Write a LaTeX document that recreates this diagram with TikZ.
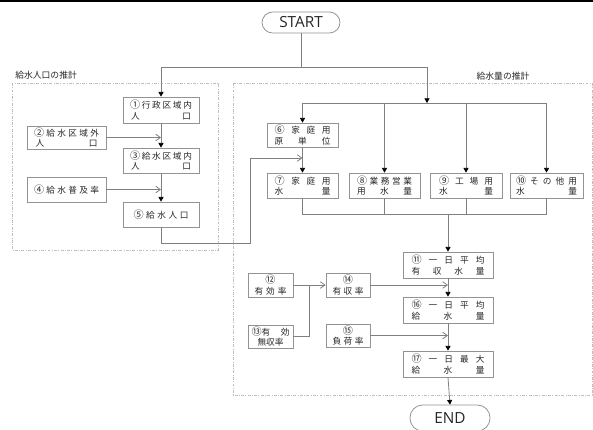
\documentclass[tikz,border=0pt]{standalone}
\usepackage{fontspec}
\newfontfamily\jp{Noto Sans CJK JP}
\newfontfamily\lat{Open Sans}
\usetikzlibrary{arrows.meta}
\newcommand\spr[2]{\makebox[\dimexpr 0.75pt*#1\relax][s]{#2}}
\newcommand\cn[1]{{\fontsize{7.6}{7.9}\selectfont #1}}
\newcommand\bx[6]{\node[box, minimum width={(#4-#2)*0.75pt}, minimum height={(#5-#3)*0.75pt}] (#1) at ({(#2+#4)/2},{(#3+#5)/2}) {#6};}
\begin{document}
\begin{tikzpicture}[x=0.75pt,y=-0.75pt,
  box/.style={draw=gray!85, line width=0.6pt, inner sep=0pt, align=center, text=black!85, font=\jp\fontsize{6.5}{7.9}\selectfont},
  ln/.style={draw=gray, line width=0.6pt},
  fa/.style={ln, -{Triangle[length=3.5pt,width=3.8pt,color=black]}},
  oa/.style={ln, -{Straight Barb[length=3.5pt,width=5pt]}},
  grp/.style={draw=gray!50, line width=0.6pt, dash pattern=on 2.2pt off 1pt on 0.7pt off 1pt},
  ttl/.style={inner sep=0pt, text=black!85, font=\jp\fontsize{6.6}{8}\selectfont},
  pill/.style={draw=gray!85, line width=0.6pt, rounded corners=8pt, text=black!85, font=\lat\fontsize{11.5}{12}\selectfont, inner sep=0pt}]
\useasboundingbox (0,0) rectangle (593,429);
\fill[black] (0,0) rectangle (593,2.3);
% groups
\draw[grp] (12,83) rectangle (218,250);
\draw[grp] (233,83) rectangle (592,395);
\node[ttl, anchor=west] (t1) at (15,75) {給水人口の推計};
\node[ttl] (t2) at (503,76) {給水量の推計};
% terminals
\node[pill, minimum width=78*0.75pt, minimum height=21*0.75pt] (start) at (301,22.5) {START};
\node[pill, rounded corners=9.5pt, minimum width=80*0.75pt, minimum height=26*0.75pt] (end) at (450,418) {END};
% boxes
\bx{b1}{123}{97}{199}{123}{\spr{62}{\cn{①} 行 政 区 域 内}\\\spr{60}{人 口}}
\bx{b2}{27}{126}{106}{149}{\spr{65}{\cn{②} 給 水 区 域 外}\\\spr{62}{人 口}}
\bx{b3}{123}{148}{199}{173}{\spr{62}{\cn{③} 給 水 区 域 内}\\\spr{60}{人 口}}
\bx{b4}{27}{177}{106}{202}{\spr{65}{\cn{④} 給 水 普 及 率}}
\bx{b5}{123}{202}{199}{227}{\spr{55}{\cn{⑤} 給 水 人 口}}
\bx{b6}{267}{123}{338}{147}{\spr{56}{\cn{⑥} 家 庭 用}\\\spr{56}{原 単 位}}
\bx{b7}{267}{173}{338}{198}{\spr{56}{\cn{⑦} 家 庭 用}\\\spr{56}{水 量}}
\bx{b8}{349}{173}{420}{198}{\spr{55}{\cn{⑧} 業 務 営 業}\\\spr{55}{用 水 量}}
\bx{b9}{430}{173}{502}{198}{\spr{54}{\cn{⑨} 工 場 用}\\\spr{54}{水 量}}
\bx{b10}{510}{173}{583}{198}{\spr{61}{\cn{⑩} そ の 他 用}\\\spr{61}{水 量}}
\bx{b11}{403}{252}{493}{278}{\spr{73}{\cn{⑪} 一 日 平 均}\\\spr{73}{有 収 水 量}}
\bx{b12}{248}{273}{293}{297}{\cn{⑫}\\\spr{32}{有 効 率}}
\bx{b13}{248}{325}{293}{348}{\spr{38}{\cn{⑬}有 効}\\無収率}
\bx{b14}{326}{273}{370}{297}{\cn{⑭}\\\spr{31}{有 収 率}}
\bx{b15}{326}{324}{370}{347}{\cn{⑮}\\\spr{31}{負 荷 率}}
\bx{b16}{403}{297}{493}{323}{\spr{73}{\cn{⑯} 一 日 平 均}\\\spr{73}{給 水 量}}
\bx{b17}{403}{351}{493}{377}{\spr{73}{\cn{⑰} 一 日 最 大}\\\spr{73}{給 水 量}}
% junction coordinates
\coordinate (jT) at (301,67);
\coordinate (jL) at (161,67);
\coordinate (jR) at (427,67);
\coordinate (brC) at (427,103);
\coordinate (brL) at (302.5,103);
\coordinate (br8) at (384.5,103);
\coordinate (br9) at (466,103);
\coordinate (brR) at (546.5,103);
\coordinate (cL) at (302.5,214);
\coordinate (cR) at (546.5,214);
\coordinate (c11) at (448,214);
\coordinate (r1) at (250,243);
\coordinate (r2) at (302.5,158);
\coordinate (m) at (309,285);
% connectors
\draw[ln] (start.south) -- (jT);
\draw[ln] (jL) -- (jR);
\draw[fa] (jL) -- (b1.north);
\draw[fa] (jR) -- (brC);
\draw[ln] (brL) -- (brR);
\draw[fa] (brL) -- (b6.north);
\draw[fa] (br8) -- (b8.north);
\draw[fa] (br9) -- (b9.north);
\draw[fa] (brR) -- (b10.north);
\draw[fa] (b1.south) -- (b3.north);
\draw[fa] (b3.south) -- (b5.north);
\draw[oa] (b2.east) -- (b2.east -| b1.south);
\draw[oa] (b4.east) -- (b4.east -| b1.south);
\draw[fa] (b6.south) -- (b7.north);
\draw[oa] (b5.south) |- (r1) |- (r2);
\draw[ln] (b7.south) -- (cL) -- (cR) -- (b10.south);
\draw[ln] (b8.south) -- (b8.south |- cL);
\draw[ln] (b9.south) -- (b9.south |- cL);
\draw[fa] (c11) -- (b11.north);
\draw[ln] (b12.east) -- (m);
\draw[ln] (b13.east) -| (m);
\draw[oa] (m) -- (b14.west);
\draw[oa] (b14.east) -- (b14.east -| b11.south);
\draw[oa] (b15.east) -- (b15.east -| b11.south);
\draw[fa] (b11.south) -- (b16.north);
\draw[fa] (b16.south) -- (b17.north);
\draw[fa] (b17.south) -- (end.north);
\end{tikzpicture}
\end{document}
